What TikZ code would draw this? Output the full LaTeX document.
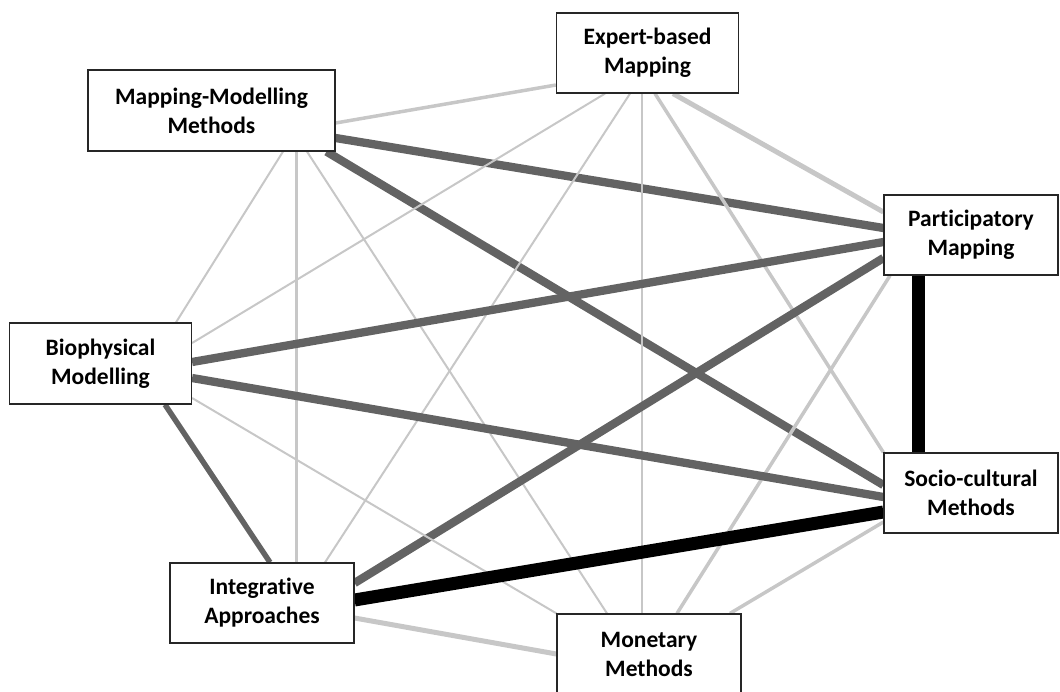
\documentclass[tikz,border=0pt]{standalone}
\usepackage{fontspec}
\setmainfont{Carlito}[Ligatures=NoCommon]
\usetikzlibrary{backgrounds}
\colorlet{lgray}{black!22}
\colorlet{dgray}{black!61}

\begin{document}
\begin{tikzpicture}[x=1pt,y=-1pt,
    method/.style={draw=black!85,line width=1.2pt,fill=white,align=center,
      inner sep=0pt,minimum width=182pt,minimum height=80pt,
      font=\fontsize{23.5}{29}\selectfont\bfseries},
    thinlink/.style={lgray,line width=2pt},
    palelink/.style={lgray,line width=3.5pt},
    widelink/.style={lgray,line width=5pt},
    midlink/.style={dgray,line width=5.5pt},
    darklink/.style={dgray,line width=8.3pt},
    blacklink/.style={black,line width=13pt}]
    \useasboundingbox (0,0) rectangle (1060,691);
    % methods
    \node [method] (eb) at (647.5,53) {Expert-based\\Mapping};
    \node [method,minimum width=247pt,minimum height=81pt] (mm) at (211.5,110.5) {Mapping-Modelling\\Methods};
    \node [method,minimum width=174pt] (pm) at (971,235) {Participatory\\Mapping};
    \node [method,minimum height=81pt] (bm) at (100.5,363.5) {Biophysical\\Modelling};
    \node [method,minimum width=174pt] (sc) at (971,493) {Socio-cultural\\Methods};
    \node [method,minimum width=184pt] (ia) at (262,603) {Integrative\\Approaches};
    \node [method,minimum width=184pt] (mo) at (649,654) {Monetary\\Methods};
    % links
    \begin{scope}[on background layer]
        \draw [palelink] ([yshift=-12.5pt]mm.east) -- ([yshift=-32pt]eb.west);
        \draw [darklink] ([yshift=-27.5pt]mm.east) -- ([yshift=7pt]pm.west);
        \draw [darklink] ([xshift=115pt]mm.south) -- ([yshift=8pt]sc.west);
        \draw [thinlink] ([xshift=71.5pt]mm.south) -- ([xshift=75.5pt]bm.north);
        \draw [lgray,line width=3pt] ([xshift=84.5pt]mm.south) -- ([xshift=34pt]ia.north);
        \draw [thinlink] ([xshift=95.5pt]mm.south) -- ([xshift=-42pt]mo.north);
        \draw [thinlink] ([xshift=-42.5pt]eb.south) -- ([yshift=20.5pt]bm.east);
        \draw [thinlink] ([xshift=-17.5pt]eb.south) -- ([xshift=63pt]ia.north);
        \draw [thinlink] ([xshift=-5.5pt]eb.south) -- ([xshift=-7pt]mo.north);
        \draw [palelink] ([xshift=7.5pt]eb.south) -- (sc.north west);
        \draw [widelink] ([xshift=25.5pt]eb.south) -- ([yshift=23pt]pm.west);
        \draw [darklink] ([yshift=-7pt]pm.west) -- ([yshift=1.5pt]bm.east);
        \draw [darklink] ([yshift=-23pt]pm.west) -- ([yshift=20pt]ia.east);
        \draw [blacklink] ([xshift=-53pt]pm.south) -- ([xshift=-53pt]sc.north);
        \draw [palelink] ([xshift=-81pt]pm.south) -- ([xshift=28pt]mo.north);
        \draw [darklink] ([yshift=-14.5pt]bm.east) -- ([yshift=-4pt]sc.west);
        \draw [midlink] ([xshift=64.5pt]bm.south) -- ([xshift=8pt]ia.north);
        \draw [thinlink] ([yshift=-34.5pt]bm.east) -- (mo.north west);
        \draw [blacklink] ([yshift=-19pt]sc.west) -- ([yshift=3pt]ia.east);
        \draw [palelink] ([yshift=-29pt]sc.west) -- ([xshift=81pt]mo.north);
        \draw [widelink] ([yshift=-15pt]ia.east) -- (mo.west);
    \end{scope}
\end{tikzpicture}
\end{document}
